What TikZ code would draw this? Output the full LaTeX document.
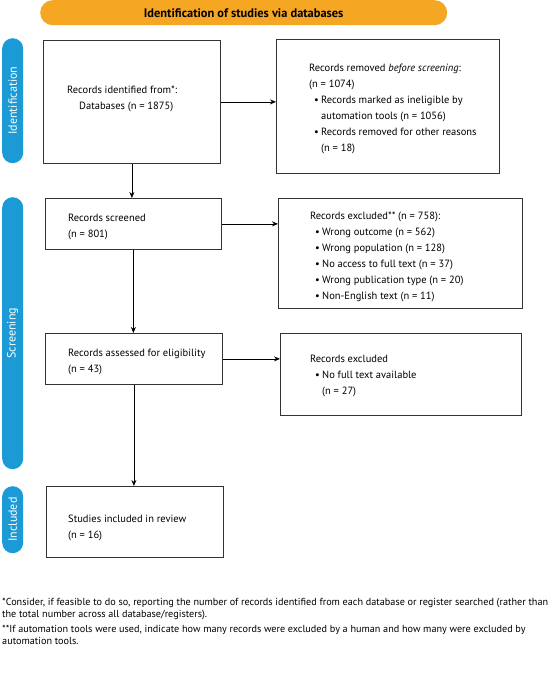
\documentclass[tikz,border=0pt]{standalone}
\usepackage{fontspec}
\setmainfont{PT Sans}
\usetikzlibrary{arrows.meta}
\definecolor{bannerorange}{HTML}{F5A623}
\definecolor{barblue}{HTML}{1B9AD6}
\definecolor{boxline}{HTML}{333333}
\newcommand{\bl}{\makebox[12pt][l]{\hspace{5pt}\textbullet}}
\newcommand{\ind}{\hspace*{12pt}}
\begin{document}
\begin{tikzpicture}[x=1pt,y=-1pt,
  boxstyle/.style={draw=boxline, line width=0.8pt, anchor=north west, inner sep=0pt},
  boxtext/.style={anchor=west, inner sep=0pt, align=left, font=\fontsize{10.5}{16}\selectfont},
  sidebar/.style={fill=barblue, rounded corners=10.5pt, anchor=north west, minimum width=21pt,
     inner sep=0pt},
  barlabel/.style={rotate=90, text=white, inner sep=0pt, font=\fontsize{12}{14}\selectfont},
  arr/.style={line width=0.8pt, -{Stealth[length=6pt,width=5pt]}},
  foot/.style={anchor=north west, inner sep=0pt, align=left, font=\fontsize{10.2}{11.8}\selectfont}
]
\useasboundingbox (0,0) rectangle (552,685);
% banner
\node[fill=bannerorange, rounded corners=12.5pt, anchor=north west, minimum width=407pt,
  minimum height=25pt, inner sep=0pt, font=\fontsize{12.4}{14}\selectfont\bfseries] (banner) at (40,0)
  {Identification of studies via databases};
% side bars
\node[sidebar, minimum height=125pt] (barid) at (2,38) {};
\node[barlabel] (lblid) at (barid.center) {Identification};
\node[sidebar, minimum height=272pt] (barsc) at (2,197) {};
\node[barlabel] (lblsc) at (barsc.center) {Screening};
\node[sidebar, minimum height=67pt] (barin) at (2,486) {};
\node[barlabel] (lblin) at (barin.center) {Included};
% boxes
\node[boxstyle, minimum width=177pt, minimum height=123pt] (id) at (43,40) {};
\node[boxtext] (idt) at ([xshift=24pt,yshift=3pt]id.west)
  {Records identified from*:\\\hspace*{12pt}Databases (n = 1875)};
\node[boxstyle, minimum width=223pt, minimum height=134pt] (removed) at (276,39) {};
\node[boxtext] (removedt) at ([xshift=33pt,yshift=-3pt]removed.west)
  {Records removed \emph{before screening}:\\
   (n = 1074)\\
   \bl Records marked as ineligible by\\
   \ind automation tools (n = 1056)\\
   \bl Records removed for other reasons\\
   \ind (n = 18)};
\node[boxstyle, minimum width=176pt, minimum height=51pt] (screened) at (45,198) {};
\node[boxtext] (screenedt) at ([xshift=23pt,yshift=-3pt]screened.west)
  {Records screened\\(n = 801)};
\node[boxstyle, minimum width=244pt, minimum height=110pt] (excl) at (278,198) {};
\node[boxtext] (exclt) at ([xshift=32pt,yshift=-3pt]excl.west)
  {Records excluded** (n = 758):\\
   \bl Wrong outcome (n = 562)\\
   \bl Wrong population (n = 128)\\
   \bl No access to full text (n = 37)\\
   \bl Wrong publication type (n = 20)\\
   \bl Non-English text (n = 11)};
\node[boxstyle, minimum width=177pt, minimum height=51pt] (assessed) at (45,333) {};
\node[boxtext] (assessedt) at ([xshift=23pt,yshift=-3pt]assessed.west)
  {Records assessed for eligibility\\(n = 43)};
\node[boxstyle, minimum width=241pt, minimum height=82pt] (excl2) at (280,333) {};
\node[boxtext] (excl2t) at ([xshift=30pt,yshift=-2pt]excl2.west)
  {Records excluded\\
   \bl No full text available\\
   \ind (n = 27)};
\node[boxstyle, minimum width=177pt, minimum height=71pt] (included) at (46,486) {};
\node[boxtext] (includedt) at ([xshift=22pt,yshift=-6pt]included.west)
  {Studies included in review\\(n = 16)};
% arrows
\draw[arr] (id.east) -- (id.east -| removed.west);
\draw[arr] (id.south) -- (id.south |- screened.north);
\draw[arr] (screened.east) -- (screened.east -| excl.west);
\draw[arr] (screened.south) -- (screened.south |- assessed.north);
\draw[arr] (assessed.east) -- (assessed.east -| excl2.west);
\draw[arr] (assessed.south) -- (assessed.south |- included.north);
% footnotes
\node[foot] (fn1) at (2,598)
  {*Consider, if feasible to do so, reporting the number of records identified from each database or register searched (rather than\\
   the total number across all database/registers).};
\node[foot] (fn2) at (2,625)
  {**If automation tools were used, indicate how many records were excluded by a human and how many were excluded by\\
   automation tools.};
\end{tikzpicture}
\end{document}
